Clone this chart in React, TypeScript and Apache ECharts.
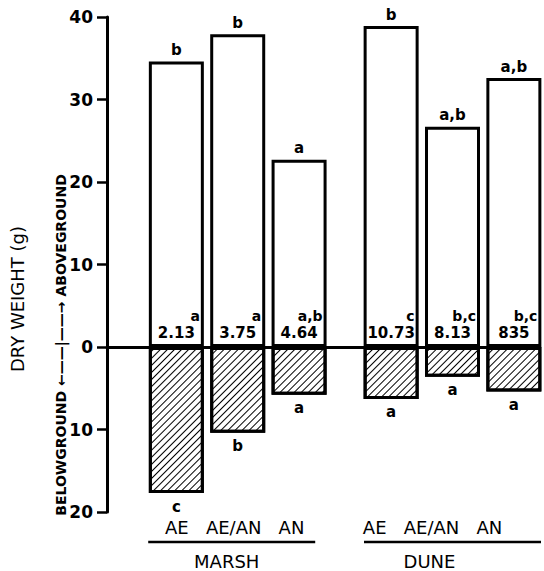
import React, { useEffect, useRef } from "react";
import * as echarts from "echarts";

const groups = ["MARSH", "DUNE"];
const treatments = ["AE", "AE/AN", "AN"];
const aboveValues = [34.6, 37.9, 22.7, 38.9, 26.7, 32.6];
const belowValues = [-17.7, -10.4, -5.8, -6.3, -3.6, -5.4];
const aboveLetters = ["b", "b", "a", "b", "a,b", "a,b"];
const ratioLetters = ["a", "a", "a,b", "c", "b,c", "b,c"];
const ratioValues = ["2.13", "3.75", "4.64", "10.73", "8.13", "835"];
const belowLetters = ["c", "b", "a", "a", "a", "a"];
const yTicks = [-20, -10, 0, 10, 20, 30, 40];

const FONT = "DejaVu Sans";

export default function App() {
  const ref = useRef<HTMLDivElement>(null);
  useEffect(() => {
    if (!ref.current) return;
    const chart = echarts.init(ref.current, null, { renderer: "svg" });
    const nT = treatments.length;
    const pos = (i: number) => Math.floor(i / nT) * 3.5 + (i % nT) + 1;
    const groupCenters = groups.map((_, g) => g * 3.5 + 2);

    const barW = 55;
    const aboveData = aboveValues.map((v, i) => [pos(i), v]);
    const belowData = belowValues.map((v, i) => [pos(i), v]);

    chart.setOption({
      animation: false,
      backgroundColor: "#fff",
      grid: { left: 107, right: 0, top: 17, bottom: 59 },
      xAxis: [
        {
          type: "value",
          min: -0.13,
          max: 6.92,
          axisLine: { show: true, onZero: true, lineStyle: { color: "#000", width: 3 } },
          axisTick: { show: false },
          axisLabel: { show: false },
          splitLine: { show: false },
        },
        {
          type: "value",
          min: -0.13,
          max: 6.92,
          position: "bottom",
          axisLine: { show: false, onZero: false },
          axisTick: { show: false },
          splitLine: { show: false },
          axisLabel: {
            show: true,
            customValues: groupCenters,
            margin: 4,
            formatter: (v: number) => {
              const g = v > 3.5 ? 1 : 0;
              const tr = treatments.join("   ");
              if (g === 0) {
                return `{t|${tr}}{s1| }\n{u0| }{s2| }\n{g|${groups[0]}}{s3| }`;
              }
              return `{t|${tr}}{s4| }\n{u1| }\n{g|${groups[1]}}{s5| }`;
            },
            rich: {
              t: { fontSize: 18, fontFamily: FONT, color: "#000", lineHeight: 22 },
              g: { fontSize: 18, fontFamily: FONT, color: "#000", lineHeight: 30 },
              u0: { fontSize: 1, width: 167, height: 2.5, lineHeight: 8, backgroundColor: "#000" },
              u1: { fontSize: 1, width: 177, height: 2.5, lineHeight: 8, backgroundColor: "#000" },
              s1: { fontSize: 1, width: 6 },
              s2: { fontSize: 1, width: 12 },
              s3: { fontSize: 1, width: 22 },
              s4: { fontSize: 1, width: 40 },
              s5: { fontSize: 1, width: 46 },
            },
          },
        },
      ],
      yAxis: {
        type: "value",
        min: yTicks[0],
        max: yTicks[yTicks.length - 1],
        interval: 10,
        axisLine: { show: true, onZero: false, lineStyle: { color: "#000", width: 3 } },
        axisTick: { show: true, length: 10, lineStyle: { color: "#000", width: 2.5 } },
        axisLabel: {
          margin: 14,
          color: "#000",
          fontSize: 17,
          fontWeight: "bold",
          fontFamily: FONT,
          formatter: (v: number) => String(Math.abs(v)),
        },
        splitLine: { show: false },
      },
      series: [
        {
          type: "bar",
          xAxisIndex: 0,
          barWidth: barW,
          barGap: "-100%",
          data: aboveData,
          itemStyle: { color: "#fff", borderColor: "#000", borderWidth: 3 },
          label: {
            show: true,
            position: "top",
            distance: 4,
            color: "#000",
            fontSize: 15,
            fontWeight: "bold",
            fontFamily: FONT,
            formatter: (p: any) => aboveLetters[p.dataIndex],
          },
          z: 2,
        },
        {
          type: "bar",
          xAxisIndex: 0,
          barWidth: barW,
          barGap: "-100%",
          data: belowData,
          itemStyle: {
            color: "#fff",
            borderColor: "#000",
            borderWidth: 3,
            decal: {
              symbol: "rect",
              symbolSize: 1,
              color: "#000",
              backgroundColor: "#fff",
              dashArrayX: [1, 0],
              dashArrayY: [1, 4],
              rotation: -Math.PI / 4,
            },
          },
          label: {
            show: true,
            position: "bottom",
            distance: 6,
            color: "#000",
            fontSize: 15,
            fontWeight: "bold",
            fontFamily: FONT,
            formatter: (p: any) => belowLetters[p.dataIndex],
          },
          z: 2,
        },
        {
          type: "bar",
          xAxisIndex: 0,
          barWidth: barW,
          barGap: "-100%",
          data: aboveData,
          itemStyle: { color: "rgba(0,0,0,0)", borderWidth: 0 },
          label: {
            show: true,
            position: "insideBottom",
            distance: 5,
            formatter: (p: any) =>
              `{l|${ratioLetters[p.dataIndex]}}\n{n|${ratioValues[p.dataIndex]}}`,
            rich: {
              l: {
                width: barW - 12,
                align: "right",
                fontSize: 14,
                fontWeight: "bold",
                fontFamily: FONT,
                color: "#000",
                lineHeight: 17,
              },
              n: {
                width: barW - 8,
                align: "center",
                fontSize: 15,
                fontWeight: "bold",
                fontFamily: FONT,
                color: "#000",
                lineHeight: 18,
              },
            },
          },
          z: 3,
        },
      ],
      graphic: [
        {
          type: "text",
          x: 17,
          y: 299,
          rotation: Math.PI / 2,
          style: {
            text: "DRY WEIGHT (g)",
            font: `18px "${FONT}"`,
            fill: "#000",
            align: "center",
            verticalAlign: "middle",
          },
        },
        {
          type: "text",
          x: 61,
          y: 345,
          rotation: Math.PI / 2,
          style: {
            text: "BELOWGROUND ←——|——→ ABOVEGROUND",
            font: `bold 14px "${FONT}"`,
            fill: "#000",
            align: "center",
            verticalAlign: "middle",
          },
        },
      ],
    });
    return () => chart.dispose();
  }, []);
  return (
    <div
      ref={ref}
      style={{ position: "fixed", left: 0, top: 0, width: 544, height: 571 }}
    />
  );
}
